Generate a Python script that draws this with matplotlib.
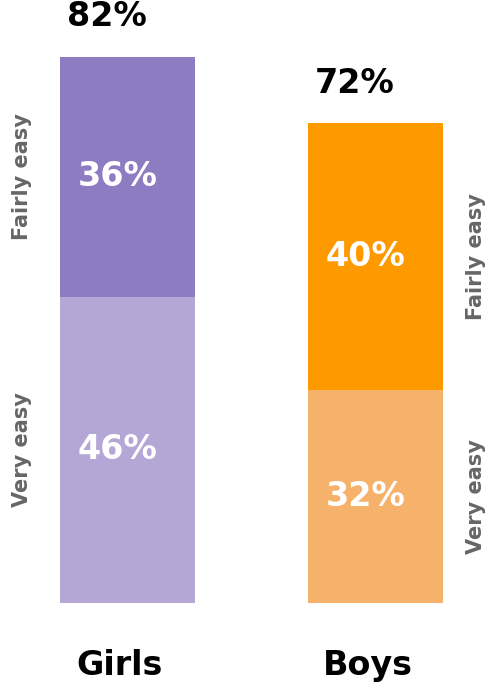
import matplotlib
matplotlib.use("Agg")
import matplotlib.pyplot as plt
import numpy as np

groups = ["Girls", "Boys"]
very_easy = [46, 32]
fairly_easy = [36, 40]
totals = [82, 72]
seg_names = ["Very easy", "Fairly easy"]
dark_colors = ["#8e7cc3", "#ff9900"]
light_colors = ["#b4a7d6", "#f6b26b"]

plt.rcParams['font.family'] = ['DejaVu Sans']

W, H = 491, 686
fig = plt.figure(figsize=(W / 100, H / 100), dpi=100)
k = 6.66  # px per percent
bottom_px = 83
ymax = 85
ax = fig.add_axes([0, bottom_px / H, 1, ymax * k / H])
ax.set_xlim(-127.5 / 248, (W - 127.5) / 248)
ax.set_ylim(0, ymax)
ax.axis('off')

x = np.arange(len(groups))
width = 135 / 248

ax.bar(x, very_easy, width=width, color=light_colors, linewidth=0)
ax.bar(x, fairly_easy, width=width, bottom=very_easy, color=dark_colors, linewidth=0)

gray = "#666666"
for i in range(len(groups)):
    left = x[i] - width / 2
    # inner labels
    ax.text(left + 18 / 248, very_easy[i] / 2, f"{very_easy[i]}%", color="white",
            fontsize=24, fontweight='bold', ha='left', va='center')
    ax.text(left + 18 / 248, very_easy[i] + fairly_easy[i] / 2, f"{fairly_easy[i]}%", color="white",
            fontsize=24, fontweight='bold', ha='left', va='center')
    # totals
    ax.annotate(f"{totals[i]}%", xy=(left + 7 / 248, totals[i]), xytext=(0, 17),
                textcoords='offset points', ha='left', va='bottom',
                fontsize=24, fontweight='bold', color='black')
    # group label
    ax.annotate(groups[i], xy=(x[i] - 0.03, 0), xytext=(0, -45),
                textcoords='offset points', ha='center', va='center',
                fontsize=24, fontweight='bold', color='black', annotation_clip=False)
    # side labels
    sx = x[i] - width / 2 - 38 / 248 if i == 0 else x[i] + width / 2 + 33 / 248
    ax.text(sx, very_easy[i] / 2, seg_names[0], rotation=90, color=gray,
            fontsize=15, fontweight='bold', ha='center', va='center')
    ax.text(sx, very_easy[i] + fairly_easy[i] / 2, seg_names[1], rotation=90, color=gray,
            fontsize=15, fontweight='bold', ha='center', va='center')

fig.savefig("out.png", dpi=100)
